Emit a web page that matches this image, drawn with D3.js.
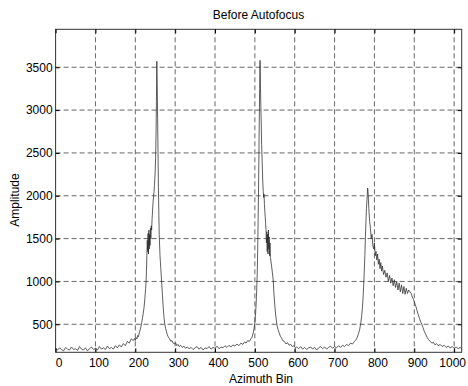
<!DOCTYPE html>
<html>
<head>
<meta charset="utf-8">
<script src="https://cdn.jsdelivr.net/npm/d3@7"></script>
<style>
  html, body { margin: 0; padding: 0; background: #fff; }
  svg { display: block; }
  text { font-family: "Liberation Sans", Arial, Helvetica, sans-serif; fill: #000; }
</style>
</head>
<body>
<svg id="chart" width="468" height="386"></svg>
<script>
const titleText = "Before Autofocus";
const xLabel = "Azimuth Bin";
const yLabel = "Amplitude";
const xTicks = [0, 100, 200, 300, 400, 500, 600, 700, 800, 900, 1000];
const yTicks = [500, 1000, 1500, 2000, 2500, 3000, 3500];
const xDomain = [0, 1019];
const yDomain = [173, 3943];

const azimuthBins = [
  0,5,10,15,20,25,30,35,40,45,50,55,60,65,70,75,80,85,90,95,
  100,105,110,115,120,125,130,135,140,145,150,155,160,165,170,175,180,185,190,195,
  198,200,202,204,206,208,210,212,214,216,218,220,222,224,226,227,228,229,230,231,
  232,233,234,235,236,237,238,239,240,241,242,243,244,245,246,247,248,249,250,251,
  252,253,254,255,256,257,258,259,260,262,264,266,268,270,272,274,276,278,280,283,
  286,289,292,295,298,301,304,307,310,314,318,322,326,
  330,335,340,345,350,355,360,365,370,375,380,385,390,395,400,405,410,415,420,425,
  430,435,440,445,450,455,460,465,470,474,478,482,486,490,493,496,498,500,502,504,
  506,507,508,509,510,511,512,513,514,515,516,517,518,519,520,521,522,523,524,525,
  526,527,528,529,530,531,532,533,534,535,536,537,538,539,540,542,544,546,548,550,
  552,554,556,558,561,564,567,570,574,578,582,586,590,594,598,602,
  605,610,615,620,625,630,635,640,645,650,655,660,665,670,675,680,685,690,695,700,
  705,710,715,720,725,730,735,740,745,750,754,757,
  760,763,766,768,770,772,774,776,778,780,782,783,784,785,786,788,790,792,794,796,
  798,800,802,804,806,808,810,812,814,816,818,820,823,826,829,832,835,838,841,844,
  847,850,853,856,859,862,865,868,871,874,877,880,883,886,889,892,895,898,901,904,
  907,910,913,916,919,922,925,928,932,936,940,944,948,952,956,960,965,970,975,980,
  985,990,995,1000,1005,1010,1015,1019
];

const amplitudes = [
  215,200,225,205,190,230,210,200,235,205,215,195,240,210,200,225,190,215,235,205,
  220,200,240,210,225,205,245,215,230,210,250,225,260,235,275,250,300,280,330,310,
  335,310,345,330,370,355,400,430,470,520,570,630,700,800,920,1000,1120,1300,1480,1350,
  1560,1320,1600,1380,1550,1420,1620,1500,1650,1600,1720,1800,1880,1950,2000,2050,2120,2200,2300,2450,
  2700,3100,3570,3300,2900,2500,2100,1800,1550,1300,1150,1000,850,700,580,500,450,420,380,350,
  330,300,310,280,270,285,250,265,240,255,230,245,220,
  235,215,230,205,225,240,210,230,200,225,215,240,210,230,220,245,215,235,225,250,
  230,255,235,260,245,270,250,280,265,295,280,310,300,330,350,400,450,520,640,820,
  1100,1350,1650,2000,2400,2850,3250,3580,3300,3050,2850,2600,2450,2300,2150,2050,1980,2020,1900,1820,
  1750,1680,1600,1450,1580,1350,1550,1320,1600,1380,1520,1300,1450,1280,1250,1180,1100,1020,850,720,
  620,540,480,440,400,360,340,310,300,270,285,255,265,240,250,225,
  235,215,240,210,230,205,225,235,210,230,200,225,240,215,235,210,230,245,220,240,
  225,250,230,255,240,265,250,280,270,300,320,350,
  390,440,520,600,700,850,1050,1300,1600,1850,2000,2090,2050,1950,1850,1700,1620,1500,1550,1420,
  1380,1450,1300,1350,1250,1320,1200,1260,1150,1220,1120,1180,1080,1130,1050,1100,1000,1070,980,1040,
  950,1020,930,1000,900,980,880,960,860,940,850,920,860,900,880,860,820,790,750,710,
  660,610,570,530,500,460,420,390,350,320,300,280,290,260,275,250,265,240,255,230,
  245,225,240,220,235,215,230,215
];

const svg = d3.select("#chart");
const L = 55.6, R = 461.7, T = 29.3, B = 352.3;

const x = d3.scaleLinear().domain(xDomain).range([L, R]);
const y = d3.scaleLinear().domain(yDomain).range([B, T]);

// grid
const grid = svg.append("g").attr("stroke", "#555").attr("stroke-width", 0.9)
  .attr("stroke-dasharray", "5,3").attr("fill", "none");
grid.selectAll("line.gx").data(xTicks.filter(d => d > 0)).join("line")
  .attr("class", "gx")
  .attr("x1", d => x(d)).attr("x2", d => x(d)).attr("y1", T).attr("y2", B);
grid.selectAll("line.gy").data(yTicks).join("line")
  .attr("class", "gy")
  .attr("x1", L).attr("x2", R).attr("y1", d => y(d)).attr("y2", d => y(d));

// data line
const pts = azimuthBins.map((b, i) => [b, amplitudes[i]]);
const line = d3.line().x(d => x(d[0])).y(d => y(d[1]));
svg.append("path").datum(pts)
  .attr("d", line)
  .attr("fill", "none")
  .attr("stroke", "#2a2a2a")
  .attr("stroke-width", 0.75);

// box
svg.append("rect").attr("x", L).attr("y", T).attr("width", R - L).attr("height", B - T)
  .attr("fill", "none").attr("stroke", "#333").attr("stroke-width", 1);

// axes
const xAxis = d3.axisBottom(x).tickValues(xTicks).tickSize(-4).tickPadding(6)
  .tickFormat(d3.format("d"));
const gx = svg.append("g").attr("transform", `translate(0,${B})`).call(xAxis);
gx.select(".domain").remove();
gx.selectAll("text").attr("font-size", 12)
  .attr("dx", d => d === xTicks[xTicks.length - 1] ? -2 : 3)
  .style("font-family", '"Liberation Sans", Arial, sans-serif');

const yAxis = d3.axisLeft(y).tickValues(yTicks).tickSize(-4).tickPadding(3)
  .tickFormat(d3.format("d"));
const gy = svg.append("g").attr("transform", `translate(${L},0)`).call(yAxis);
gy.select(".domain").remove();
gy.selectAll("text").attr("font-size", 12)
  .style("font-family", '"Liberation Sans", Arial, sans-serif');

// top and right ticks
const xTop = d3.axisTop(x).tickValues(xTicks).tickSize(-4).tickFormat("");
const gxt = svg.append("g").attr("transform", `translate(0,${T})`).call(xTop);
gxt.select(".domain").remove();
const yRight = d3.axisRight(y).tickValues(yTicks).tickSize(-4).tickFormat("");
const gyr = svg.append("g").attr("transform", `translate(${R},0)`).call(yRight);
gyr.select(".domain").remove();

// labels
svg.append("text").attr("x", 258.5).attr("y", 19).attr("text-anchor", "middle")
  .attr("font-size", 12).text(titleText);
svg.append("text").attr("x", 261).attr("y", 383).attr("text-anchor", "middle")
  .attr("font-size", 12).text(xLabel);
svg.append("text").attr("transform", "translate(19,200) rotate(-90)")
  .attr("text-anchor", "middle").attr("font-size", 12).text(yLabel);
</script>
</body>
</html>
